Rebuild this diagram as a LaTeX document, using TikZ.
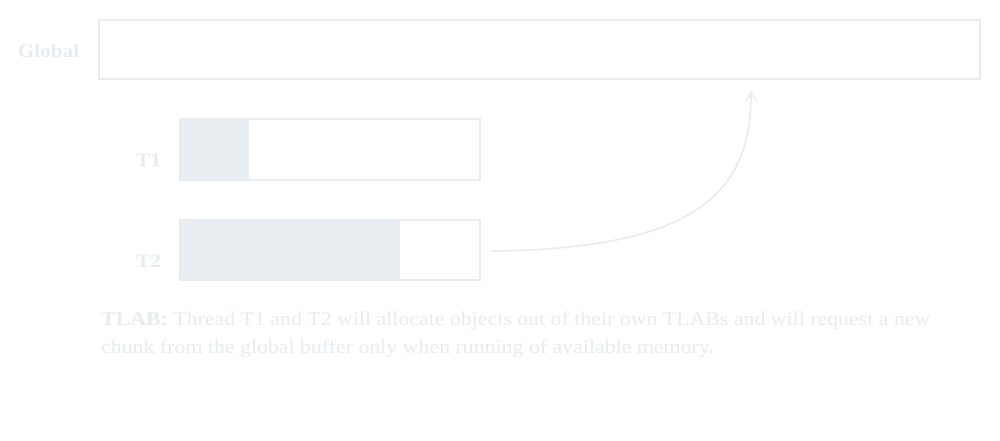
\documentclass[tikz,border=0pt]{standalone}
\usepackage{fontspec}
\setmainfont{Liberation Serif}[FakeStretch=1.12]
\usetikzlibrary{arrows.meta}
\begin{document}
\begin{tikzpicture}[x=1pt,y=-1pt,
  pale/.style={draw=boxc,line width=1.6pt},
  lbl/.style={text=boxc,font=\fontsize{19}{22}\selectfont\bfseries,inner sep=0pt},
  ]
\definecolor{boxc}{HTML}{E6ECF0}
\definecolor{fillc}{HTML}{E8EEF2}
\useasboundingbox (0,0) rectangle (1000,440);
\fill[white] (0,0) rectangle (1000,440);
% global
\node[pale,minimum width=881pt,minimum height=59pt,inner sep=0pt] (global) at (539.5,49.5) {};
\node[lbl,anchor=base] (gl) at (48.5,57) {Global};
% T1
\fill[fillc] (180,119) rectangle (249,180);
\node[pale,minimum width=300pt,minimum height=61pt,inner sep=0pt] (t1) at (330,149.5) {};
\node[lbl,anchor=base] (t1l) at (148.5,166) {T1};
% T2
\fill[fillc] (180,220) rectangle (400,280);
\node[pale,minimum width=300pt,minimum height=60pt,inner sep=0pt] (t2) at (330,250) {};
\node[lbl,anchor=base] (t2l) at (148.5,267) {T2};
% arrow
\coordinate (s) at ([xshift=11pt,yshift=-1pt]t2.east);
\coordinate (e) at (751,90);
\draw[draw=boxc,line width=1.6pt,-{Stealth[length=13pt,width=13pt,inset=8pt]}] (s) .. controls (700,249) and (751,190) .. (e);
% text
\node[anchor=base west,inner sep=0pt,text=boxc,font=\fontsize{19.5}{28}\selectfont,align=left] (cap) at (101,353)
 {\textbf{TLAB:} Thread T1 and T2 will allocate objects out of their own TLABs and will request a new\\chunk from the global buffer only when running of available memory.};
\end{tikzpicture}
\end{document}
